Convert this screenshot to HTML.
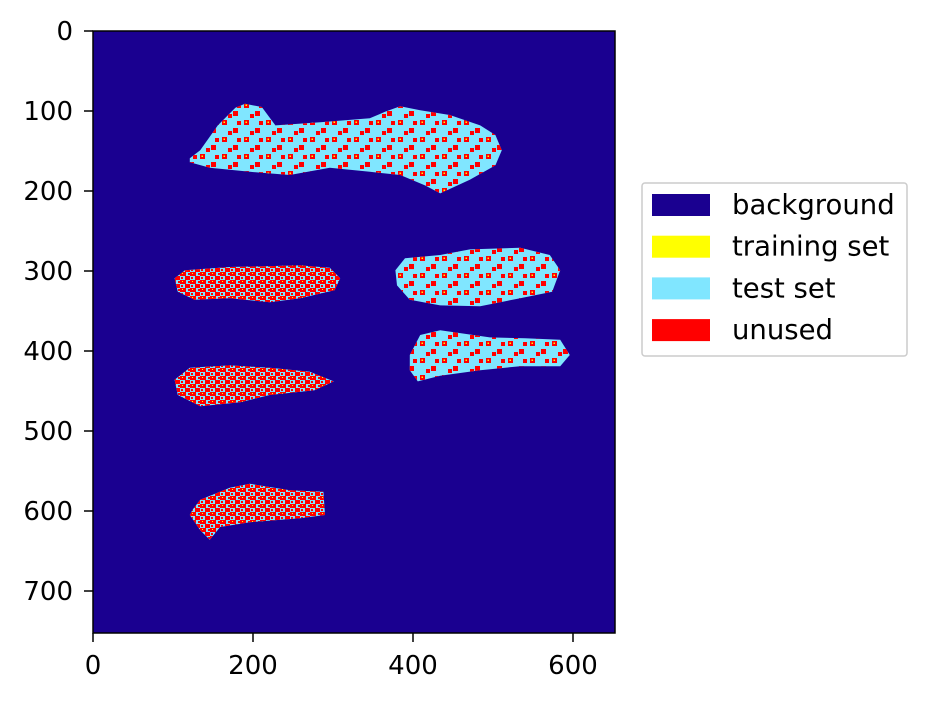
<!DOCTYPE html>
<html><head><meta charset="utf-8"><style>
body{margin:0;background:#fff;font-family:"DejaVu Sans","Liberation Sans",sans-serif}
svg text{font-family:"DejaVu Sans","Liberation Sans",sans-serif;font-size:26px;fill:#000}
svg text.leg{font-size:27.5px}
</style></head><body>
<svg id="chart" width="927" height="702">
<defs>
<pattern id="sparse" width="22" height="17" patternUnits="userSpaceOnUse">
<rect x="2" y="1" width="5" height="5" fill="#ff0000"/><rect x="3.5" y="2.5" width="1.5" height="1.5" fill="#ffff00"/>
<rect x="13" y="9" width="5" height="5" fill="#ff0000"/>
<rect x="8" y="12" width="4" height="4" fill="#ff0000"/>
<rect x="17" y="2" width="4" height="4" fill="#ff0000"/>
</pattern>
<pattern id="dense" width="10" height="8" patternUnits="userSpaceOnUse">
<rect x="0" y="0" width="6" height="4" fill="#ff0000"/><rect x="5" y="4" width="5" height="4" fill="#ff0000"/><rect x="1" y="5" width="2" height="2" fill="#ff0000"/><rect x="8" y="1" width="2" height="2" fill="#ff0000"/><rect x="2" y="1" width="1" height="1" fill="#ffff00"/>
</pattern>
</defs>
<rect x="93" y="31" width="522" height="602" fill="#1a0090"/>
<g id="blobs"></g>
<rect x="93" y="31" width="522" height="602" fill="none" stroke="#000" stroke-width="1.5"/>
<g id="ticks"></g>
<g>
<rect x="642" y="183" width="265" height="173" rx="3" fill="#fff" stroke="#ccc" stroke-width="1.5"/>
<g id="legend-entries"></g>
</g>
</svg>
<script>
const xTicks=[0,200,400,600];
const yTicks=[0,100,200,300,400,500,600,700];
const legendLabels=["background","training set","test set","unused"];
const legendColors=["#1a0090","#ffff00","#80e6ff","#ff0000"];
const blob1=[[121,159],[134,149],[156,118],[178,96],[190,91],[211,95],[228,118],[284,114],[346,109],[365,101],[384,94],[409,99],[446,105],[484,118],[503,130],[511,149],[503,168],[471,186],[434,203],[415,193],[384,180],[346,176],[296,171],[246,180],[196,176],[146,171],[121,164]];
const blob2=[[102,309],[115,299],[171,295],[259,293],[296,296],[309,309],[302,324],[259,334],[221,339],[171,334],[127,336],[106,326]];
const blob3=[[378,299],[390,284],[434,280],[471,273],[534,271],[571,280],[584,299],[574,326],[534,334],[484,344],[434,343],[396,336],[380,318]];
const blob4=[[102,436],[121,421],[171,418],[221,421],[271,426],[301,438],[277,449],[221,455],[184,464],[134,469],[106,455]];
const blob5=[[396,405],[409,380],[434,374],[496,383],[540,384],[584,386],[596,405],[584,419],[534,419],[484,424],[434,431],[406,438],[396,424]];
const blob6=[[124,599],[134,586],[171,571],[196,566],[246,574],[288,576],[290,605],[259,609],[196,614],[159,620],[146,636],[134,624],[121,605]];
const blobs=[blob1,blob2,blob3,blob4,blob5,blob6];
const blobDensity=["sparse","dense","sparse","dense","sparse","dense"];
const NS="http://www.w3.org/2000/svg";
const sx=v=>93+v*0.8, sy=v=>31+v*0.8;
const bg=document.getElementById('blobs');
blobs.forEach((b,i)=>{
 const pts=b.map(p=>sx(p[0])+','+sy(p[1])).join(' ');
 const g=document.createElementNS(NS,'g');
 
 
 const p1=document.createElementNS(NS,'polygon');
 p1.setAttribute('points',pts);p1.setAttribute('fill','#80e6ff');
 
 
 const p2=document.createElementNS(NS,'polygon');
 p2.setAttribute('points',pts);p2.setAttribute('fill','url(#'+blobDensity[i]+')');
 
 
 g.appendChild(p1);g.appendChild(p2);bg.appendChild(g);
});
const tg=document.getElementById('ticks');
function add(tag,attrs,txt){const e=document.createElementNS(NS,tag);for(const k in attrs)e.setAttribute(k,attrs[k]);if(txt!==undefined)e.textContent=txt;tg.appendChild(e);return e;}
xTicks.forEach(t=>{
 const l=add('line',{x1:sx(t),x2:sx(t),y1:633,y2:642,stroke:'#000','stroke-width':1.5});
 
 
 const tx=add('text',{x:sx(t),y:674,'text-anchor':'middle'},t);
 
 
});
yTicks.forEach(t=>{
 const l=add('line',{x1:84,x2:93,y1:sy(t),y2:sy(t),stroke:'#000','stroke-width':1.5});
 
 
 const tx=add('text',{x:73,y:sy(t)+9,'text-anchor':'end'},t);
 
 
});
const lg=document.getElementById('legend-entries');
legendLabels.forEach((lab,i)=>{
 const y=205+i*41.7;
 const g=document.createElementNS(NS,'g');
 
 
 const r=document.createElementNS(NS,'rect');
 r.setAttribute('x',652);r.setAttribute('y',y-11);r.setAttribute('width',58);r.setAttribute('height',22);r.setAttribute('fill',legendColors[i]);
 const t=document.createElementNS(NS,'text');
 t.setAttribute('class','leg');
 t.setAttribute('x',732);t.setAttribute('y',y+9);t.textContent=lab;
 g.appendChild(r);g.appendChild(t);lg.appendChild(g);
});
</script>
</body></html>
